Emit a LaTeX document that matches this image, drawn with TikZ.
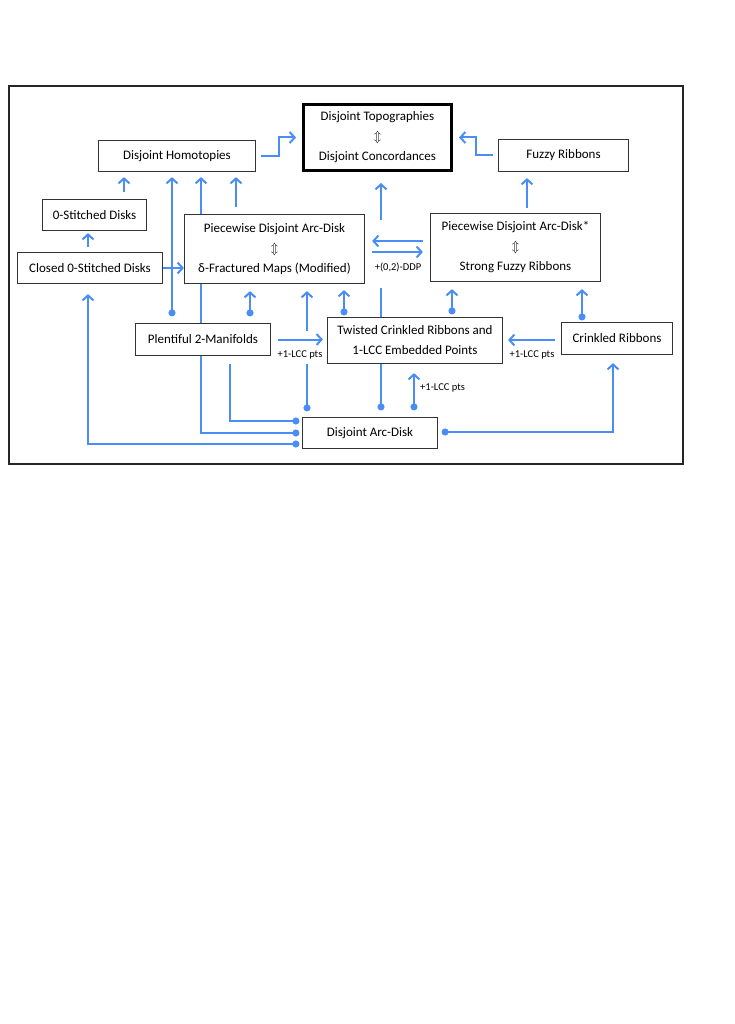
\documentclass[tikz,border=0pt]{standalone}
\usepackage{fontspec}
\setmainfont{Carlito}
\usetikzlibrary{arrows.meta}
\definecolor{linkblue}{RGB}{74,141,247}
\pgfdeclarelayer{back}
\pgfsetlayers{back,main}

\begin{document}
\begin{tikzpicture}[x=1pt,y=-1pt,
    box/.style={draw=black!80,line width=1.2pt,fill=white,inner sep=0pt,align=center,font=\fontsize{13}{20}\selectfont},
    note/.style={font=\fontsize{10.5}{12}\selectfont,inner sep=0pt},
    link/.style={draw=linkblue,line width=2pt,-{Straight Barb[length=5pt,width=11pt]}},
    dotlink/.style={link,{Circle[length=7pt]}-{Straight Barb[length=5pt,width=11pt]}},
    dotline/.style={draw=linkblue,line width=2pt,{Circle[length=7pt]}-}]
    \useasboundingbox (0,0) rectangle (734,1024);
    \draw[line width=1.5pt,black!85] (9,86) rectangle (683,464);

    \node[box,line width=3pt,draw=black,minimum width=148pt,minimum height=66pt] (dt) at (377.5,137.5) {Disjoint Topographies\\$\Updownarrow$\\Disjoint Concordances};
    \node[box,minimum width=157pt,minimum height=31pt] (dh) at (177,156) {Disjoint Homotopies};
    \node[box,minimum width=130pt,minimum height=32pt] (fr) at (563.5,155.5) {Fuzzy Ribbons};
    \node[box,minimum width=104pt,minimum height=31pt] (osd) at (94.5,215) {0-Stitched Disks};
    \node[box,minimum width=145pt,minimum height=31pt] (csd) at (90,268) {Closed 0-Stitched Disks};
    \node[box,minimum width=180pt,minimum height=69pt] (pdad) at (274.5,249) {Piecewise Disjoint Arc-Disk\\$\Updownarrow$\\δ-Fractured Maps (Modified)};
    \node[box,minimum width=170pt,minimum height=68pt] (pdads) at (515.5,247.5) {Piecewise Disjoint Arc-Disk*\\$\Updownarrow$\\Strong Fuzzy Ribbons};
    \node[box,minimum width=135pt,minimum height=32pt] (pm) at (203,339.5) {Plentiful 2-Manifolds};
    \node[box,minimum width=175pt,minimum height=46pt] (tcr) at (415,340.5) {Twisted Crinkled Ribbons and\\1-LCC Embedded Points};
    \node[box,minimum width=111pt,minimum height=32pt] (cr) at (617,338.5) {Crinkled Ribbons};
    \node[box,minimum width=135pt,minimum height=31pt] (dad) at (370,433) {Disjoint Arc-Disk};

    \node[note,fill=white,text height=50pt,text depth=18pt,anchor=base] (ddp) at (398,270) {+(0,2)-DDP};
    \node[note,fill=white,text height=26pt,text depth=7pt,anchor=base] (lcca) at (300,357) {+1-LCC pts};
    \node[note] (lccb) at (532,355) {+1-LCC pts};
    \node[note,anchor=west] (lccc) at (420,388) {+1-LCC pts};

    \begin{pgfonlayer}{back}
    \draw[link,shorten <=5pt,shorten >=6pt] (dh.east) -- ++(23,0) |- (dt.west);
    \draw[link,shorten <=5pt,shorten >=6pt] (fr.west) -- ++(-22,0) |- (dt.east);
    \draw[link,shorten <=7pt,shorten >=5pt] (osd.north -| 124,0) -- (dh.south -| 124,0);
    \draw[link,shorten <=5pt,shorten >=2pt] (csd.north -| 88,0) -- (osd.south -| 88,0);
    \draw[link] (csd.east) -- (pdad.west |- csd.east);
    \draw[dotlink,shorten <=6.5pt,shorten >=5pt] (pm.north -| 172,0) -- (dh.south -| 172,0);
    \draw[dotlink,shorten <=2.5pt,shorten >=5pt] (dad.west) -| (dh.south -| 201,0);
    \draw[link,shorten <=7pt,shorten >=5pt] (pdad.north -| 236,0) -- (dh.south -| 236,0);
    \draw[dotlink,shorten <=2.5pt,shorten >=10pt] (dad.west |- 0,444) -| (csd.south -| 88,0);
    \draw[dotline,shorten <=2.5pt,shorten >=8pt] (dad.west |- 0,421) -| (pm.south -| 230,0);
    \draw[dotlink,shorten <=6.5pt,shorten >=7pt] (pm.north -| 250,0) -- (pdad.south -| 250,0);
    \draw[dotlink,shorten <=5.5pt,shorten >=7pt] (dad.north -| 307,0) -- (pdad.south -| 307,0);
    \draw[dotlink,shorten <=1.5pt,shorten >=6pt] (tcr.north -| 344,0) -- (pdad.south -| 344,0);
    \draw[dotlink,shorten <=6.5pt,shorten >=11pt] (dad.north -| 381,0) -- (dt.south -| 381,0);
    \draw[link,shorten <=5pt,shorten >=6pt] (pdads.north -| 527,0) -- (fr.south -| 527,0);
    \draw[dotlink,shorten <=2.5pt,shorten >=7pt] (tcr.north -| 452,0) -- (pdads.south -| 452,0);
    \draw[dotlink,shorten <=1.5pt,shorten >=7pt] (cr.north -| 582,0) -- (pdads.south -| 582,0);
    \draw[dotlink,shorten <=6.5pt,shorten >=9pt] (dad.north -| 414,0) -- (tcr.south -| 414,0);
    \draw[dotlink,shorten <=3.5pt,shorten >=8pt] (dad.east |- 0,432) -| (cr.south -| 613,0);
    \end{pgfonlayer}

    \draw[link,shorten <=7pt,shorten >=4pt] (pm.east) -- (tcr.west |- pm.east);
    \draw[link,shorten <=7pt,shorten >=7pt] (pdads.west |- 0,241) -- (pdad.east |- 0,241);
    \draw[link,shorten <=7pt,shorten >=7pt] (pdad.east |- 0,252) -- (pdads.west |- 0,252);
    \draw[link,shorten <=6pt,shorten >=5pt] (cr.west |- 0,340) -- (tcr.east |- 0,340);
\end{tikzpicture}
\end{document}
